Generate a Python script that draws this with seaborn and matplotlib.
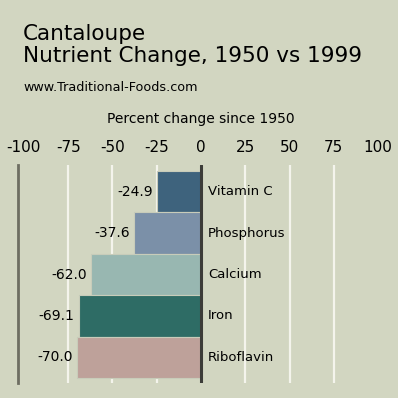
import numpy as np
import pandas as pd
import matplotlib
matplotlib.use("Agg")
import matplotlib.pyplot as plt
import seaborn as sns

# ---- data ----
nutrients = ["Vitamin C", "Phosphorus", "Calcium", "Iron", "Riboflavin"]
pct_change = [-24.9, -37.6, -62.0, -69.1, -70.0]
bar_colors = ["#3e637d", "#7b90a8", "#98b7b1", "#2e6c65", "#bea19a"]
x_ticks = [-100, -75, -50, -25, 0, 25, 50, 75, 100]
grid_at = [-75, -50, -25, 25, 50, 75]

BG = "#d2d6c1"

sns.set_style("white")
plt.rcParams["font.family"] = ["DejaVu Sans"]
plt.rcParams["text.color"] = "black"
plt.rcParams["xtick.color"] = "black"

df = pd.DataFrame({"nutrient": nutrients, "change": pct_change})

fig = plt.figure(figsize=(3.98, 3.98), dpi=100, facecolor=BG)
ax = fig.add_axes([18 / 398, 1 - 383 / 398, 366 / 398, 218 / 398])
ax.set_facecolor(BG)

# white gridlines behind the bars
for g in grid_at:
    ax.axvline(g, color="#f4f4ec", linewidth=1.6, zorder=0)

sns.barplot(data=df, y="nutrient", x="change", hue="nutrient",
            palette=bar_colors, orient="h", width=1.0, legend=False,
            edgecolor="#c8ccba", linewidth=0.8, saturation=1, ax=ax, zorder=2)

for cont in ax.containers:
    ax.bar_label(cont, fmt="%.1f", padding=3, fontsize=10, color="black")

for i, name in enumerate(nutrients):
    ax.text(4, i, name, ha="left", va="center", fontsize=9.5, color="black")

ax.axvline(0, color="#3c3c38", linewidth=2.2, zorder=3)

ax.set_xlim(-103.3, 103.3)
ax.set_ylim(4.62, -0.645)
ax.xaxis.tick_top()
ax.set_xticks(x_ticks)
ax.set_xticklabels([str(t) for t in x_ticks], fontsize=11)
ax.tick_params(axis="x", length=0, pad=7, colors="black")
ax.set_yticks([])
ax.set_xlabel("")
ax.set_ylabel("")
ax.grid(False)
for s in ["top", "right", "bottom"]:
    ax.spines[s].set_visible(False)
ax.spines["left"].set_color("#6e6e62")
ax.spines["left"].set_linewidth(2)

fig.text(23 / 398, 1 - 40 / 398, "Cantaloupe", fontsize=15.5, va="baseline")
fig.text(23 / 398, 1 - 62 / 398, "Nutrient Change, 1950 vs 1999",
         fontsize=15.5, va="baseline")
fig.text(23 / 398, 1 - 91 / 398, "www.Traditional-Foods.com",
         fontsize=9.2, va="baseline")
fig.text(201 / 398, 1 - 123 / 398, "Percent change since 1950",
         fontsize=10, ha="center", va="baseline")

fig.savefig("out.png", dpi=100, facecolor=BG)
